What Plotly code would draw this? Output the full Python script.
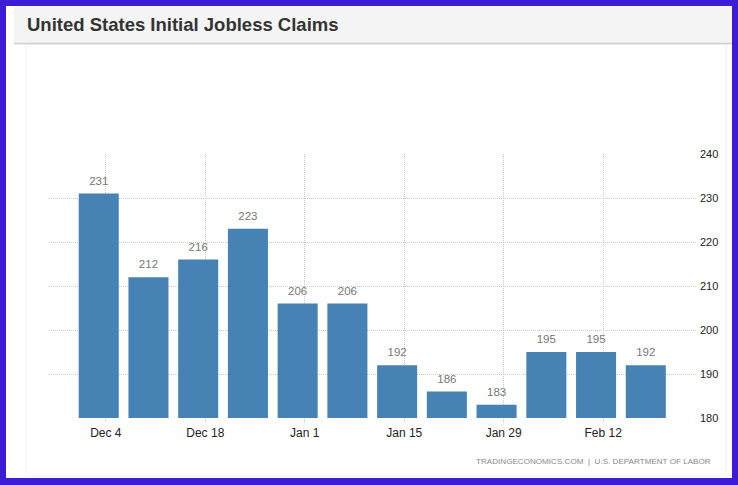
import pandas as pd
import plotly.graph_objects as go

# weekly initial claims (thousands), week ending on Saturday
week_ending = pd.date_range("2022-12-03", periods=12, freq="7D")
claims = [231, 212, 216, 223, 206, 206, 192, 186, 183, 195, 195, 192]

tick_dates = ["2022-12-04", "2022-12-18", "2023-01-01", "2023-01-15", "2023-01-29", "2023-02-12"]
tick_labels = ["Dec 4", "Dec 18", "Jan 1", "Jan 15", "Jan 29", "Feb 12"]

W, H = 738, 485
L, R, T, B = 49, 41, 154, 67
pw, ph = W - L - R, H - T - B


def xp(px):
    return (px - L) / pw


def yp(py):
    return (H - B - py) / ph


fig = go.Figure()
fig.add_trace(go.Bar(
    x=week_ending, y=claims,
    marker=dict(color="#4682b4", line=dict(width=0)),
    hoverinfo="x+y",
))
# value labels floating a little above each bar
fig.add_trace(go.Scatter(
    x=week_ending, y=claims, mode="markers+text",
    text=[str(v) for v in claims], textposition="top center",
    marker=dict(size=8, color="rgba(0,0,0,0)"),
    textfont=dict(color="#777777", size=11.5, family="Liberation Sans"),
    cliponaxis=False, hoverinfo="skip",
))

shapes = [
    # white card inside the blue frame
    dict(type="rect", xref="paper", yref="paper", x0=xp(6), x1=xp(732), y0=yp(478), y1=yp(6),
         fillcolor="white", line=dict(width=0), layer="below"),
    # faint chart container
    dict(type="rect", xref="paper", yref="paper", x0=xp(26), x1=xp(726), y0=yp(476), y1=yp(44),
         fillcolor="rgba(0,0,0,0)", line=dict(color="#f0f0f0", width=1), layer="below"),
    # header bar
    dict(type="rect", xref="paper", yref="paper", x0=xp(14), x1=xp(732), y0=yp(43), y1=yp(6),
         fillcolor="#f4f4f4", line=dict(width=0), layer="below"),
    dict(type="line", xref="paper", yref="paper", x0=xp(14), x1=xp(732), y0=yp(43.5), y1=yp(43.5),
         line=dict(color="#cccccc", width=1.5), layer="below"),
]

annotations = [
    dict(text="<b>United States Initial Jobless Claims</b>", xref="paper", yref="paper",
         x=xp(25), y=yp(24), xanchor="left", yanchor="middle", showarrow=False,
         font=dict(family="Liberation Sans", size=18.5, color="#333333")),
    dict(text="TRADINGECONOMICS.COM  |  U.S. DEPARTMENT OF LABOR", xref="paper", yref="paper",
         x=xp(713), y=yp(461), xanchor="right", yanchor="middle", showarrow=False,
         font=dict(family="Liberation Sans", size=8.1, color="#888888")),
]

grid = dict(showgrid=True, gridcolor="#c8c8c8", griddash="1px,1px", gridwidth=1)

fig.update_layout(
    width=W, height=H,
    margin=dict(l=L, r=R, t=T, b=B, pad=0),
    paper_bgcolor="#3c1cd6", plot_bgcolor="white",
    showlegend=False, bargap=0.195,
    shapes=shapes, annotations=annotations,
    font=dict(family="Liberation Sans", color="#333333"),
    xaxis=dict(
        type="date", range=["2022-11-26", "2023-02-25 05:00"],
        tickvals=tick_dates, ticktext=tick_labels,
        ticks="outside", ticklen=4, tickcolor="#dddddd",
        tickfont=dict(size=12, color="#222222"),
        showline=False, zeroline=False, fixedrange=True, **grid,
    ),
    yaxis=dict(
        side="right", range=[180, 240], dtick=10,
        tickfont=dict(size=11, color="#222222"),
        zeroline=False, showline=False, ticklabelstandoff=2, fixedrange=True, **grid,
    ),
)

fig.write_html("out.html", config={"displayModeBar": False},
               post_script="document.body.style.margin='0';")
